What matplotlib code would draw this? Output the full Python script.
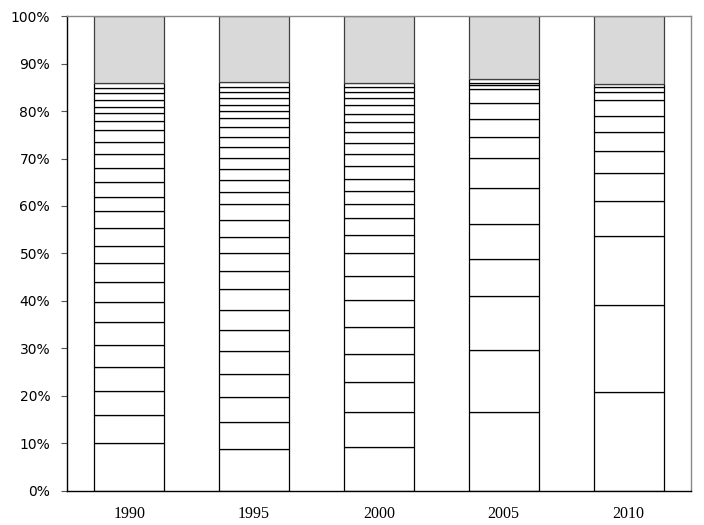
import matplotlib
matplotlib.use("Agg")
import matplotlib.pyplot as plt
import numpy as np

years = ["1990", "1995", "2000", "2005", "2010"]

# cumulative boundaries (%) of the white segments; remainder up to 100% is grey
cum_1990 = [10.0, 16.0, 21.1, 26.0, 30.8, 35.5, 39.7, 43.9, 47.9, 51.6, 55.3, 59.0, 62.0, 65.05,
            68.1, 70.9, 73.5, 76.0, 78.0, 79.6, 80.9, 82.3, 83.7, 84.8, 86.0]
cum_1995 = [8.8, 14.6, 19.8, 24.6, 29.4, 33.8, 38.0, 42.5, 46.4, 50.0, 53.5, 57.1, 60.4, 62.9,
            65.4, 67.7, 70.2, 72.4, 74.5, 76.6, 78.5, 79.9, 81.3, 82.7, 83.9, 85.1, 86.1]
cum_2000 = [9.2, 16.7, 22.9, 28.8, 34.6, 40.2, 45.3, 50.0, 53.9, 57.4, 60.4, 63.2, 65.7, 68.4,
            70.9, 73.3, 75.6, 77.6, 79.4, 81.3, 82.7, 84.1, 85.0, 86.0]
cum_2005 = [16.7, 29.7, 41.05, 48.8, 56.3, 63.7, 70.2, 74.5, 78.4, 81.6, 84.6, 85.4, 86.0, 86.7]
cum_2010 = [20.9, 39.2, 53.7, 61.05, 66.9, 71.6, 75.6, 79.0, 82.3, 84.1, 85.0, 85.7]

all_cum = [cum_1990, cum_1995, cum_2000, cum_2005, cum_2010]
yticks = [0, 10, 20, 30, 40, 50, 60, 70, 80, 90, 100]

fig = plt.figure(figsize=(7.04, 5.25), dpi=100)
ax = fig.add_axes([0.095, 0.0648, 0.8865, 0.9047])

width = 0.56
for i, cum in enumerate(all_cum):
    bottoms = [0.0] + cum[:-1]
    heights = np.diff([0.0] + cum)
    ax.bar([i] * len(heights), heights, bottom=bottoms, width=width,
           color="white", edgecolor="black", linewidth=0.9)
    ax.bar(i, 100 - cum[-1], bottom=cum[-1], width=width,
           color="#D9D9D9", edgecolor="#404040", linewidth=0.9)

ax.set_xlim(-0.5, 4.5)
ax.set_ylim(0, 100)
ax.set_xticks(range(len(years)))
ax.set_xticklabels(years, fontfamily="Liberation Serif", fontsize=11.5)
ax.set_yticks(yticks)
ax.set_yticklabels([f"{v}%" for v in yticks], fontfamily="DejaVu Sans", fontsize=10)
ax.tick_params(axis="x", length=0, pad=11)
ax.tick_params(axis="y", length=4, width=0.8, pad=8, color="#555555")
for s in ax.spines.values():
    s.set_color("black")
    s.set_linewidth(1.0)
ax.spines["top"].set_color("#888888")
ax.spines["right"].set_color("#888888")

fig.savefig("out.png", dpi=100)
